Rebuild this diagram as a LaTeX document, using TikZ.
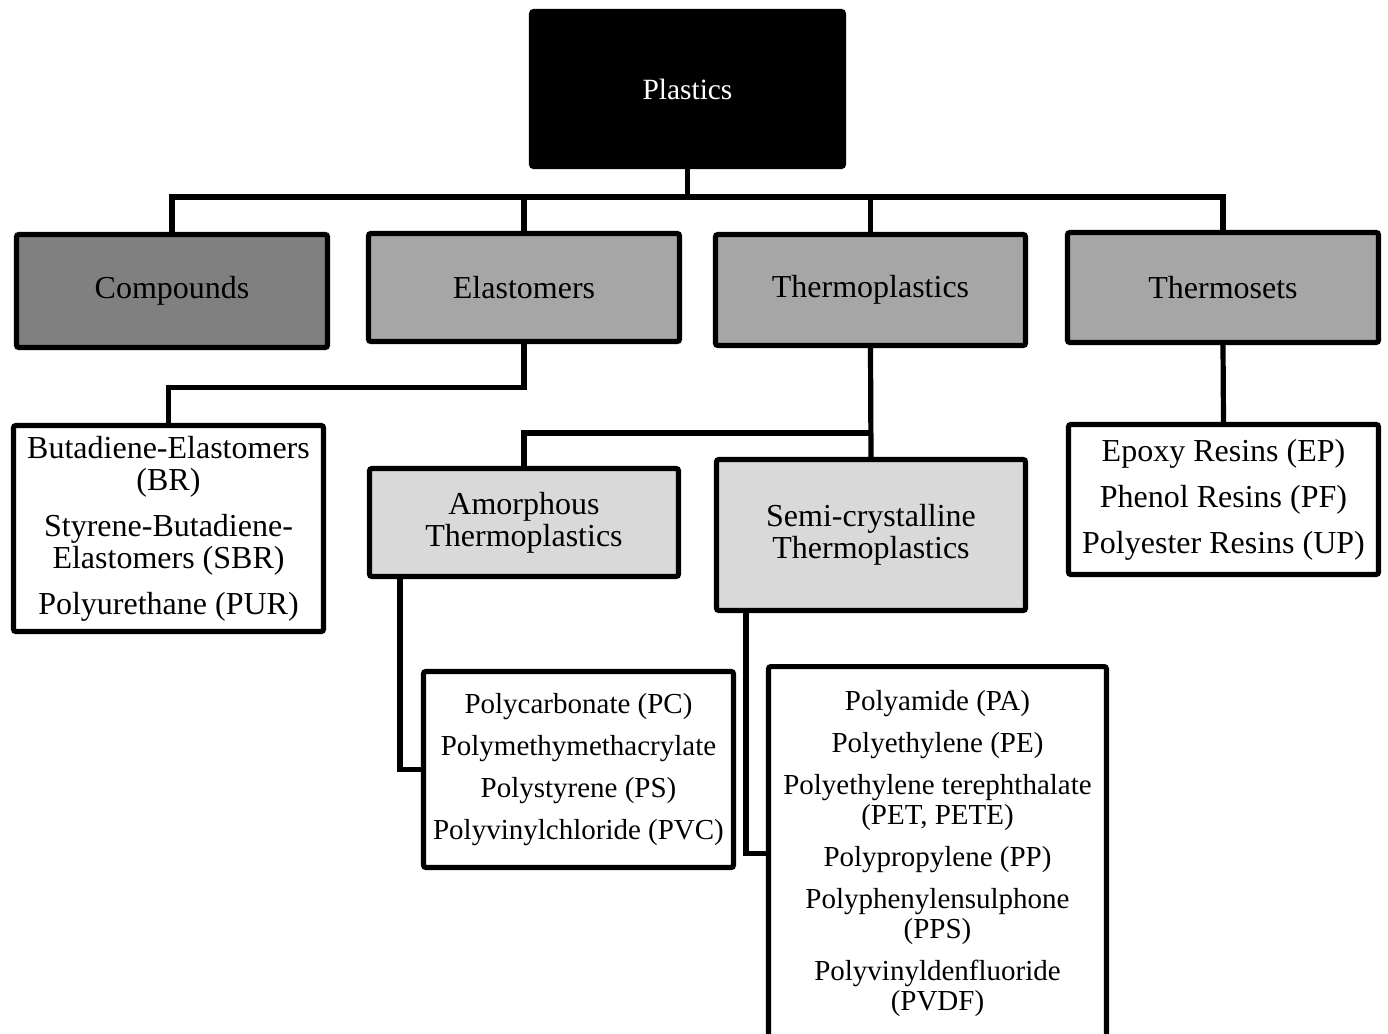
\documentclass[tikz,border=0pt]{standalone}
\usepackage{fontspec}
\setmainfont{Liberation Serif}
\usetikzlibrary{calc}
\definecolor{midgray}{HTML}{808080}
\definecolor{lvltwo}{HTML}{A6A6A6}
\definecolor{lvlthree}{HTML}{D9D9D9}
\begin{document}
\begin{tikzpicture}[x=0.5pt,y=-0.5pt,
  box/.style={draw=black, line width=2.6pt, rounded corners=1.2pt, align=center, inner sep=0pt, text=black},
  bigtext/.style={font=\fontsize{16}{16}\selectfont},
  smalltext/.style={font=\fontsize{14.5}{15}\selectfont},
  conn/.style={draw=black, line width=2.6pt, line join=miter}]
\clip (0,0) rectangle (1388,1034);
\fill[white] (0,0) rectangle (1388,1034);

\node[box, fill=black, text=white, minimum width=156pt, minimum height=77.5pt,
      font=\fontsize{14.7}{14.7}\selectfont] (plastics) at (687.5,89) {Plastics};

\node[box, bigtext, fill=midgray, minimum width=155.5pt, minimum height=56.5pt] (compounds) at (172,291) {Compounds};
\node[box, bigtext, fill=lvltwo, minimum width=155.5pt, minimum height=54pt] (elastomers) at (524,287.5) {Elastomers};
\node[box, bigtext, fill=lvltwo, minimum width=155pt, minimum height=55.5pt] (thermoplastics) at (870.5,290) {Thermoplastics};
\node[box, bigtext, fill=lvltwo, minimum width=155.5pt, minimum height=55pt] (thermosets) at (1223,287.5) {Thermosets};

\node[box, bigtext, fill=white, minimum width=155pt, minimum height=103pt] (butadiene) at (168.5,528.5)
  {Butadiene-Elastomers\\(BR)\\[7pt]Styrene-Butadiene-\\Elastomers (SBR)\\[7pt]Polyurethane (PUR)};

\node[box, bigtext, fill=lvlthree, minimum width=154.5pt, minimum height=54pt] (amorphous) at (524,522.5)
  {Amorphous\\Thermoplastics};
\node[box, bigtext, fill=lvlthree, minimum width=154.5pt, minimum height=75.5pt] (semi) at (871,535)
  {Semi-crystalline\\Thermoplastics};

\node[box, bigtext, fill=white, minimum width=155pt, minimum height=75pt] (epoxy) at (1223.5,499.5)
  {Epoxy Resins (EP)\\[7pt]Phenol Resins (PF)\\[7pt]Polyester Resins (UP)};

\node[box, smalltext, fill=white, minimum width=155pt, minimum height=98pt] (pc) at (578.5,769.5)
  {Polycarbonate (PC)\\[6pt]Polymethymethacrylate\\[6pt]Polystyrene (PS)\\[6pt]Polyvinylchloride (PVC)};

\node[box, smalltext, fill=white, minimum width=169pt, minimum height=186.7pt] (pa) at (937.5,853.3)
  {Polyamide (PA)\\[6pt]Polyethylene (PE)\\[6pt]Polyethylene terephthalate\\(PET, PETE)\\[6pt]Polypropylene (PP)\\[6pt]Polyphenylensulphone\\(PPS)\\[6pt]Polyvinyldenfluoride\\(PVDF)};

% connectors
\coordinate (bus) at (687.5,197);
\coordinate (tpbus) at (871,433);
\draw[conn] (plastics.south) -- (plastics.south |- bus);
\draw[conn] (compounds.north) |- (thermosets.north |- bus) -- (thermosets.north);
\draw[conn] (elastomers.north) -- (elastomers.north |- bus);
\draw[conn] (thermoplastics.north) -- (thermoplastics.north |- bus);
\draw[conn] (elastomers.south) -- ++(0,43) -| (butadiene.north);
\draw[conn] (thermoplastics.south) -- (semi.north);
\draw[conn] (amorphous.north) |- (tpbus);
\draw[conn] (thermosets.south) -- (epoxy.north);
\draw[conn] ([xshift=16.5pt]amorphous.south west) |- (pc.west);
\draw[conn] ([xshift=16pt]semi.south west) |- (pa.west);
\end{tikzpicture}
\end{document}
